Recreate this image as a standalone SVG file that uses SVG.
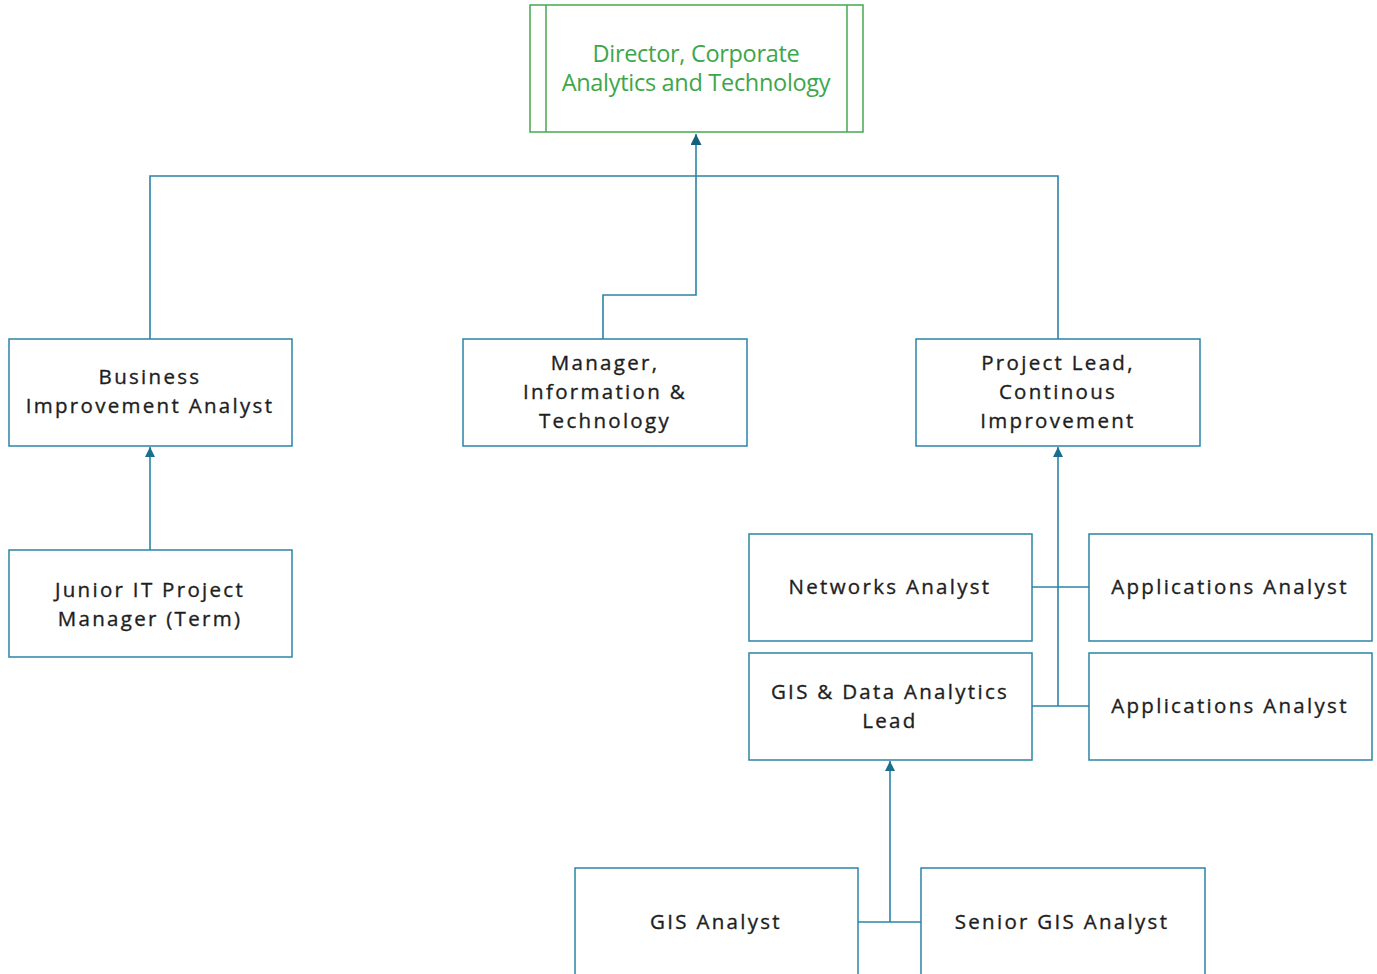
<svg xmlns="http://www.w3.org/2000/svg" width="1377" height="974" viewBox="0 0 1377 974">
  <defs>
    <style>
      .box { fill: #ffffff; stroke: #2a84a6; stroke-width: 1.5; }
      .lead { fill: #ffffff; stroke: #45a84f; stroke-width: 1.5; }
      .lbl { font-family: "Open Sans", "Liberation Sans", sans-serif; font-size: 20.5px; letter-spacing: 2.3px; fill: #1e1e1e; stroke: #1e1e1e; stroke-width: 0.35; text-anchor: middle; }
      .ttl { font-family: "Open Sans", "Liberation Sans", sans-serif; font-size: 23.5px; letter-spacing: -0.3px; fill: #3ea64a; text-anchor: middle; }
      .wire { fill: none; stroke: #2a84a6; stroke-width: 1.6; }
    </style>
    <marker id="arrow" viewBox="0 0 10 10" refX="10" refY="5" markerWidth="11" markerHeight="10" markerUnits="userSpaceOnUse" orient="auto">
      <path d="M0,0 L10,5 L0,10 z" fill="#1a6f8f"/>
    </marker>
    <marker id="arrowBig" viewBox="0 0 10 10" refX="10" refY="5" markerWidth="12" markerHeight="11" markerUnits="userSpaceOnUse" orient="auto">
      <path d="M0,0 L10,5 L0,10 z" fill="#145f7c"/>
    </marker>
  </defs>

  <!-- reporting lines -->
  <g id="connectors">
    <path class="wire" d="M150,339 V176 H1058 V339"/>
    <path class="wire" d="M603,339 V295 H696 V176"/>
    <path class="wire" d="M696,176 V134" stroke="#145f7c" stroke-width="2.6" marker-end="url(#arrowBig)"/>
    <path class="wire" d="M150,550 V447" marker-end="url(#arrow)"/>
    <path class="wire" d="M1058,706 V447" marker-end="url(#arrow)"/>
    <path class="wire" d="M1032,587 H1089"/>
    <path class="wire" d="M1032,706 H1089"/>
    <path class="wire" d="M890,922 V761" marker-end="url(#arrow)"/>
    <path class="wire" d="M858,922 H921"/>
  </g>

  <g id="director">
    <rect class="lead" x="530" y="5" width="333" height="127"/>
    <line x1="546" y1="5" x2="546" y2="132" stroke="#45a84f" stroke-width="1.5"/>
    <line x1="847" y1="5" x2="847" y2="132" stroke="#45a84f" stroke-width="1.5"/>
    <text class="ttl" x="696" y="62">Director, Corporate</text>
    <text class="ttl" x="696" y="91">Analytics and Technology</text>
  </g>

  <g id="business-improvement-analyst">
    <rect class="box" x="9" y="339" width="283" height="107"/>
    <text class="lbl" x="150" y="384">Business</text>
    <text class="lbl" x="150" y="413">Improvement Analyst</text>
  </g>

  <g id="manager-it">
    <rect class="box" x="463" y="339" width="284" height="107"/>
    <text class="lbl" x="605" y="370">Manager,</text>
    <text class="lbl" x="605" y="399">Information &amp;</text>
    <text class="lbl" x="605" y="428">Technology</text>
  </g>

  <g id="project-lead">
    <rect class="box" x="916" y="339" width="284" height="107"/>
    <text class="lbl" x="1058" y="370">Project Lead,</text>
    <text class="lbl" x="1058" y="399">Continous</text>
    <text class="lbl" x="1058" y="428">Improvement</text>
  </g>

  <g id="junior-it-pm">
    <rect class="box" x="9" y="550" width="283" height="107"/>
    <text class="lbl" x="150" y="597">Junior IT Project</text>
    <text class="lbl" x="150" y="626">Manager (Term)</text>
  </g>

  <g id="networks-analyst">
    <rect class="box" x="749" y="534" width="283" height="107"/>
    <text class="lbl" x="890" y="594">Networks Analyst</text>
  </g>

  <g id="applications-analyst-1">
    <rect class="box" x="1089" y="534" width="283" height="107"/>
    <text class="lbl" x="1230" y="594">Applications Analyst</text>
  </g>

  <g id="gis-data-lead">
    <rect class="box" x="749" y="653" width="283" height="107"/>
    <text class="lbl" x="890" y="699">GIS &amp; Data Analytics</text>
    <text class="lbl" x="890" y="728">Lead</text>
  </g>

  <g id="applications-analyst-2">
    <rect class="box" x="1089" y="653" width="283" height="107"/>
    <text class="lbl" x="1230" y="713">Applications Analyst</text>
  </g>

  <g id="gis-analyst">
    <rect class="box" x="575" y="868" width="283" height="120"/>
    <text class="lbl" x="716" y="929">GIS Analyst</text>
  </g>

  <g id="senior-gis-analyst">
    <rect class="box" x="921" y="868" width="284" height="120"/>
    <text class="lbl" x="1062" y="929">Senior GIS Analyst</text>
  </g>
</svg>
